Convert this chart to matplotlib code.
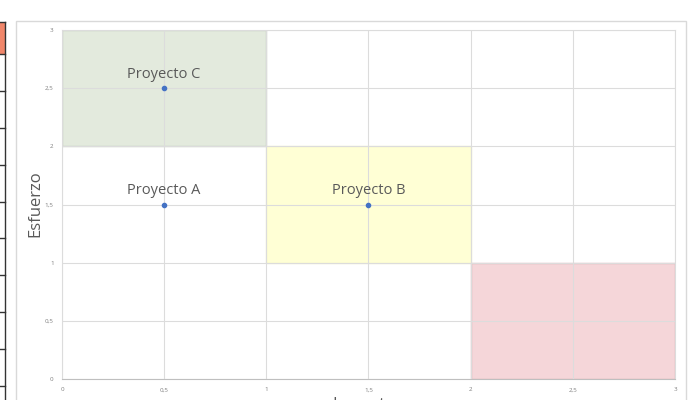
import matplotlib.pyplot as plt
from matplotlib.patches import Rectangle
from matplotlib.ticker import FuncFormatter

# datos del grafico
proyectos = ['Proyecto A', 'Proyecto B', 'Proyecto C']
impacto = [0.5, 1.5, 0.5]
esfuerzo = [1.5, 1.5, 2.5]

# zonas de fondo (x0, y0, ancho, alto)
zona_x = [0, 1, 2]
zona_y = [2, 1, 0]
zona_w = [1, 1, 1]
zona_h = [1, 1, 1]
zona_color = ['#e3eadd', '#ffffd5', '#f5d6d9']
zona_borde = ['#c8d2c0', '#f2f2c8', '#dcb4b8']

ticks = [0, 0.5, 1, 1.5, 2, 2.5, 3]

plt.rcParams['font.family'] = ['Open Sans', 'DejaVu Sans']

fig = plt.figure(figsize=(7, 4), dpi=100)

# trozo de hoja de calculo a la izquierda
fig.patches.append(Rectangle((0, 1 - 54 / 400), 5 / 700, 32 / 400, transform=fig.transFigure,
                             facecolor='#f0866a', edgecolor='none'))
fig.lines.append(plt.Line2D([5 / 700, 5 / 700], [0, 1 - 22 / 400], transform=fig.transFigure,
                            color='#333333', lw=1))
for yy in [22, 54, 91, 128, 165, 202, 238, 275, 312, 349, 386]:
    fig.lines.append(plt.Line2D([0, 5 / 700], [1 - yy / 400, 1 - yy / 400],
                                transform=fig.transFigure, color='#333333', lw=1))
# marco del grafico
fig.patches.append(Rectangle((16 / 700, -0.05), 670 / 700, 1.05 - 21 / 400, transform=fig.transFigure,
                             facecolor='none', edgecolor='#d9d9d9', lw=1))

ax = fig.add_axes([62 / 700, 1 - 379 / 400, 613 / 700, 349 / 400])

for x0, y0, w, h, c, b in zip(zona_x, zona_y, zona_w, zona_h, zona_color, zona_borde):
    ax.add_patch(Rectangle((x0, y0), w, h, facecolor=c, edgecolor=b, lw=1, zorder=0))

ax.set_xlim(0, 3)
ax.set_ylim(0, 3)
ax.set_xticks(ticks)
ax.set_yticks(ticks)
fmt = FuncFormatter(lambda v, p: ('%g' % v).replace('.', ','))
ax.xaxis.set_major_formatter(fmt)
ax.yaxis.set_major_formatter(fmt)
ax.tick_params(length=0, labelsize=4.5, labelcolor='#7f7f7f', pad=6)
ax.grid(True, color='#dcdcdc', lw=0.8, zorder=1)
ax.set_axisbelow(False)
for s in ax.spines.values():
    s.set_color('#dcdcdc')
    s.set_linewidth(0.8)
ax.spines['bottom'].set_color('#bfbfbf')
ax.patch.set_alpha(0)

ax.scatter(impacto, esfuerzo, s=9, color='#4472c4', zorder=3)
for nombre, x, y in zip(proyectos, impacto, esfuerzo):
    ax.annotate(nombre, (x, y), xytext=(0, 4.5), textcoords='offset points',
                ha='center', va='bottom', fontsize=10.5, color='#595959')

fig.text(35 / 700, 1 - 204 / 400, 'Esfuerzo', rotation=90, ha='center', va='center',
         fontsize=12, color='#595959')
fig.text(364 / 700, 1 - 397 / 400, 'Impacto', ha='center', va='top', fontsize=12, color='#595959')

fig.savefig('out.png', dpi=100)
